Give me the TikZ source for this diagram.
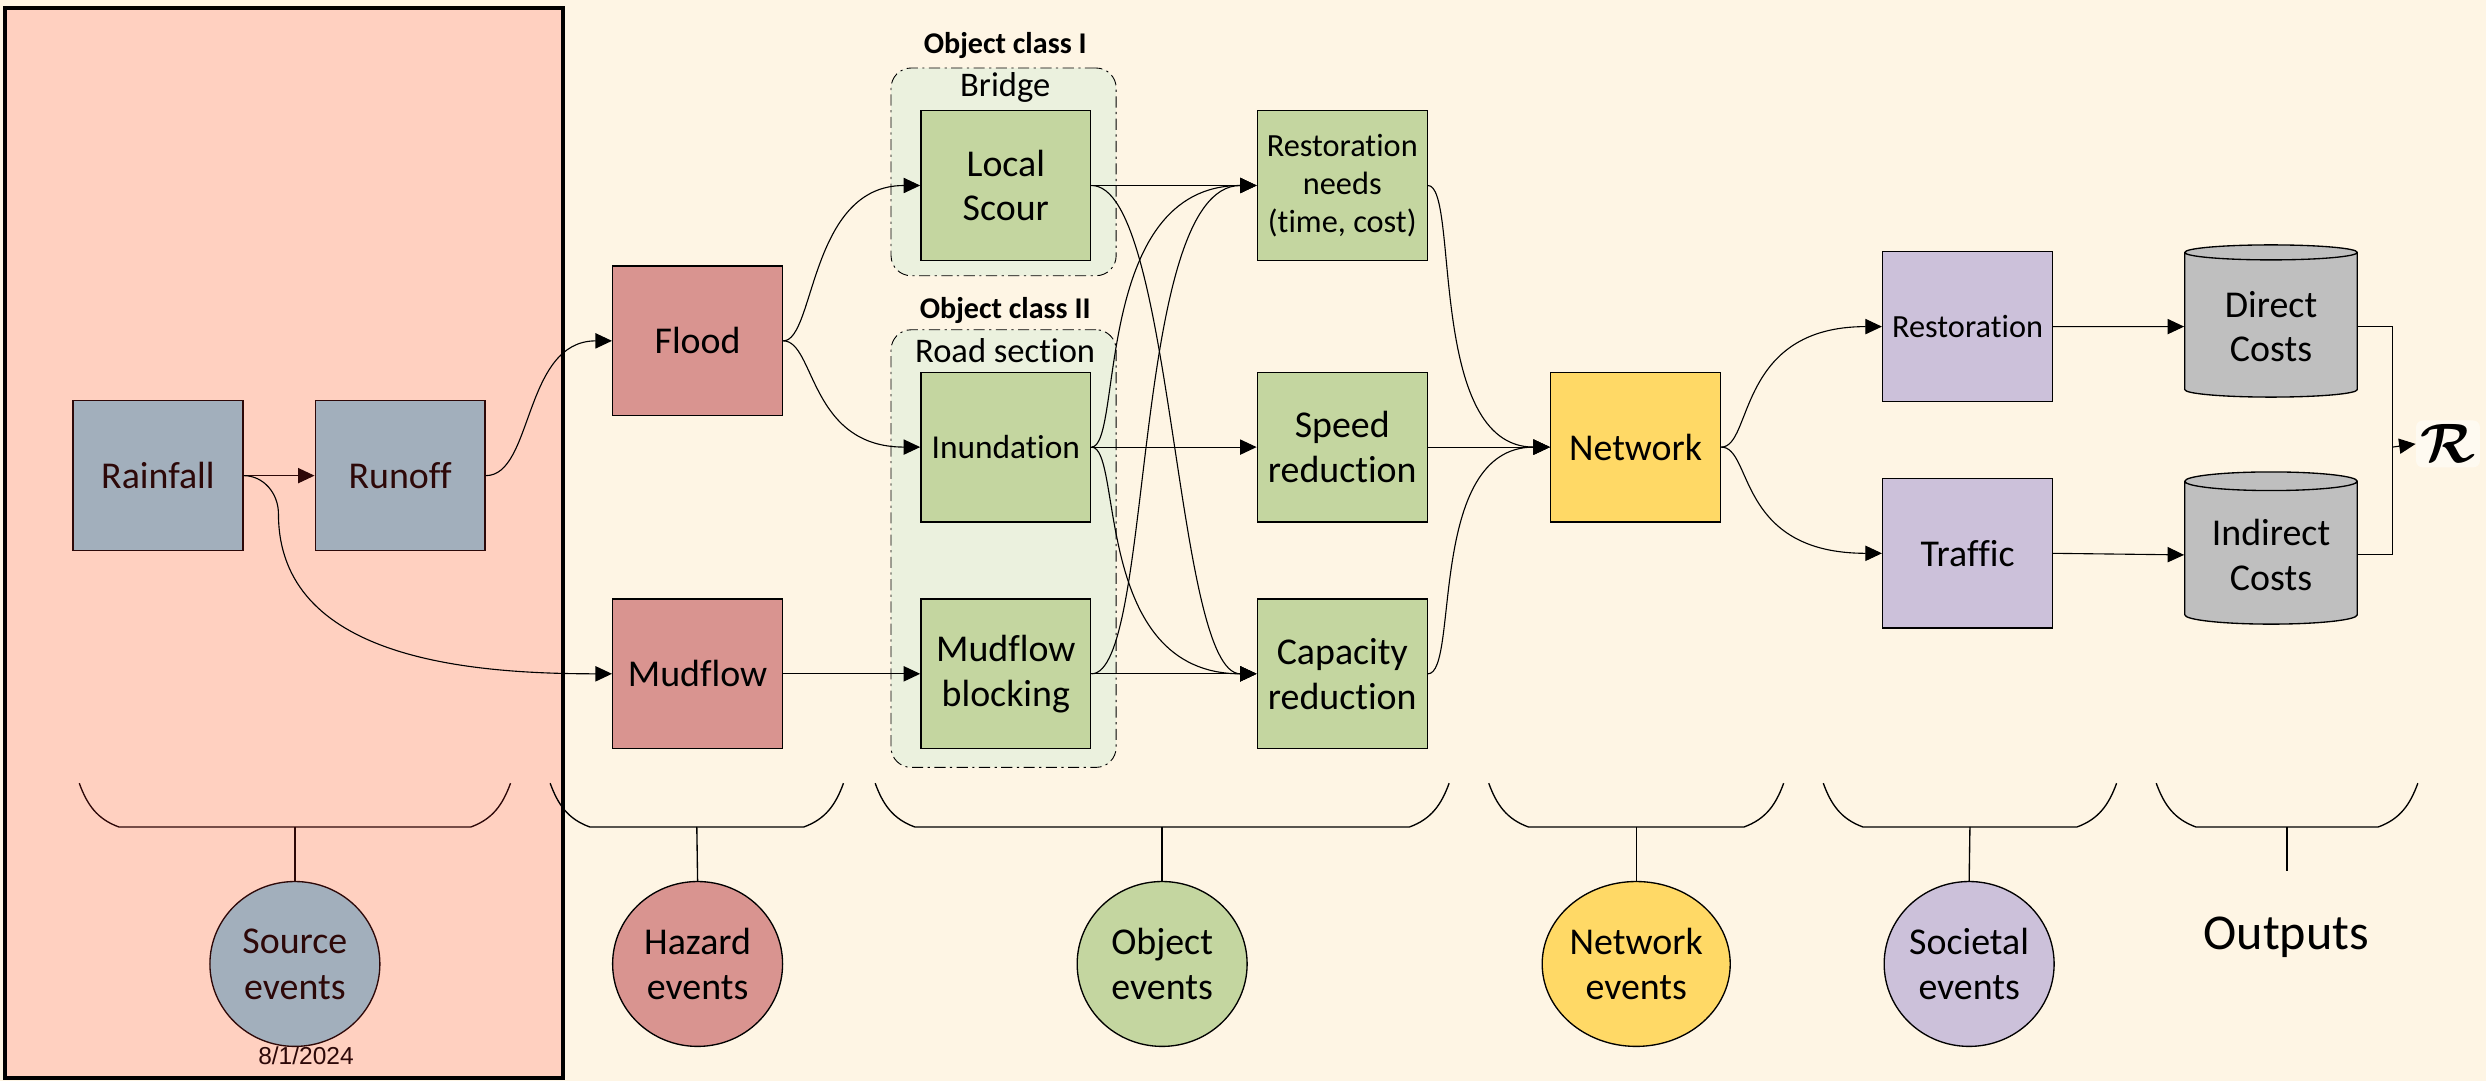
\documentclass[tikz,border=0pt]{standalone}
\usepackage{fontspec}
\setmainfont{Carlito}[Ligatures=NoCommon]
\newfontfamily\datefont{Liberation Sans}
\usepackage{amsmath,amssymb}
\usepackage{xcolor}
\usetikzlibrary{
  shapes.geometric, arrows.meta, positioning, calc
}
\definecolor{creambg}{RGB}{254,245,228}
\definecolor{sourcepink}{RGB}{255,208,192}
\definecolor{sourcegray}{RGB}{162,175,188}
\definecolor{srcink}{RGB}{45,8,8}
\definecolor{hazardred}{RGB}{217,148,144}
\definecolor{objgreen}{RGB}{196,214,160}
\definecolor{classgreen}{RGB}{235,241,222}
\definecolor{netyellow}{RGB}{255,217,102}
\definecolor{socpurple}{RGB}{204,193,218}
\definecolor{costgray}{RGB}{191,191,191}

\begin{document}
\begin{tikzpicture}[
  box/.style={rectangle, draw, line width=0.6pt,
    minimum width=2.68cm, minimum height=2.36cm,
    align=center, inner sep=1pt,
    font=\fontsize{17}{20}\selectfont},
  srcbox/.style={box, fill=sourcegray, draw=srcink, text=srcink},
  hazbox/.style={box, fill=hazardred},
  objbox/.style={box, fill=objgreen},
  netbox/.style={box, fill=netyellow},
  socbox/.style={box, fill=socpurple},
  costcyl/.style={cylinder, shape border rotate=90, aspect=0.14,
    draw, line width=0.6pt, fill=costgray,
    minimum width=2.72cm, minimum height=2.4cm,
    align=center, font=\fontsize{17}{20}\selectfont},
  group/.style={rectangle, rounded corners=9pt, draw,
    dash pattern=on 5pt off 2pt on 1pt off 2pt,
    fill=classgreen, minimum width=3.55cm},
  grplbl/.style={font=\fontsize{15.5}{18}\selectfont, inner sep=0pt},
  classlbl/.style={font=\fontsize{13.5}{16}\selectfont\bfseries,
    inner sep=0pt},
  evt/.style={ellipse, draw, line width=0.6pt,
    minimum width=2.68cm, minimum height=2.6cm,
    align=center, inner sep=0pt,
    font=\fontsize{17}{20.6}\selectfont},
  link/.style={-{Triangle[length=0.26cm, width=0.24cm]},
    line width=0.5pt},
  brace/.style={line width=0.6pt}
]
% Background and source frame
\fill[creambg] (0,0) rectangle (39.2,17.05);
\useasboundingbox (0,0) rectangle (39.2,17.05);
\draw[line width=1.8pt, fill=sourcepink]
  (0.075,0.05) rectangle (8.875,16.925);

% Object classes
\node[group, minimum height=3.275cm] (ClassI) at (15.825,14.34) {};
\node[group, minimum height=6.9cm] (ClassII) at (15.825,8.4) {};
\node[classlbl] (ClassILbl) at (15.85,16.325) {Object class I};
\node[classlbl] (ClassIILbl) at (15.85,12.15) {Object class II};
\node[grplbl] (BridgeLbl) at (15.85,15.675) {Bridge};
\node[grplbl] (RoadLbl) at (15.85,11.525) {Road section};

% Source events
\node[srcbox] (Rainfall) at (2.49,9.55) {Rainfall};
\node[srcbox] (Runoff) at (6.31,9.55) {Runoff};

% Hazard events
\node[hazbox] (Flood) at (11.0,11.675) {Flood};
\node[hazbox] (Mudflow) at (11.0,6.425) {Mudflow};

% Object events
\node[objbox] (Scour) at (15.86,14.125) {Local\\Scour};
\node[objbox, font=\fontsize{15}{18}\selectfont]
  (Inundation) at (15.86,10.0) {Inundation};
\node[objbox] (Blocking) at (15.86,6.425) {Mudflow\\blocking};
\node[objbox, font=\fontsize{14.5}{17}\selectfont]
  (RestNeeds) at (21.165,14.125) {Restoration\\needs\\(time, cost)};
\node[objbox] (Speed) at (21.165,10.0) {Speed\\reduction};
\node[objbox] (Capacity) at (21.165,6.425) {Capacity\\reduction};

% Network events
\node[netbox] (Network) at (25.79,10.0) {Network};

% Societal events
\node[socbox, font=\fontsize{14.5}{17}\selectfont]
  (Restoration) at (31.025,11.9) {Restoration};
\node[socbox] (Traffic) at (31.025,8.325) {Traffic};

% Outputs
\node[costcyl] (Direct) at (35.81,11.9) {Direct\\Costs};
\node[costcyl] (Indirect) at (35.81,8.3) {Indirect\\Costs};
\node[fill=white, fill opacity=0.5, text opacity=1,
      rounded corners=3pt, inner sep=2pt,
      font=\fontsize{25}{25}\selectfont]
  (R) at (38.6,10.05) {$\boldsymbol{\mathcal{R}}$};
\coordinate (join) at (37.725,10.0);

% Arrows
\draw[link, srcink] (Rainfall.east) -- (Runoff.west);
\draw[link] (Runoff.east) .. controls +(0.75,0) and +(-1.4,0)
  .. (Flood.west);
\draw[link] (Rainfall.east) to[out=0,in=90] ++(0.55,-0.6)
  to[out=-90,in=180] (Mudflow.west);
\draw[link] (Flood.east) .. controls +(0.5,0) and +(-1.75,0)
  .. (Scour.west);
\draw[link] (Flood.east) .. controls +(0.5,0) and +(-1.75,0)
  .. (Inundation.west);
\draw[link] (Mudflow.east) -- (Blocking.west);

\draw[link] (Scour.east) -- (RestNeeds.west);
\draw[link] (Scour.east) .. controls +(1.3,0) and +(-1.3,0)
  .. (Capacity.west);
\draw[link] (Inundation.east) .. controls +(0.5,0) and +(-2.6,0)
  .. (RestNeeds.west);
\draw[link] (Inundation.east) -- (Speed.west);
\draw[link] (Inundation.east) .. controls +(0.5,0) and +(-2.6,0)
  .. (Capacity.west);
\draw[link] (Blocking.east) .. controls +(1.0,0) and +(-2.0,0)
  .. (RestNeeds.west);
\draw[link] (Blocking.east) -- (Capacity.west);

\draw[link] (RestNeeds.east) .. controls +(0.5,0) and +(-1.95,0)
  .. (Network.west);
\draw[link] (Speed.east) -- (Network.west);
\draw[link] (Capacity.east) .. controls +(0.5,0) and +(-1.95,0)
  .. (Network.west);

\draw[link] (Network.east) .. controls +(0.5,0) and +(-2.3,0)
  .. (Restoration.west);
\draw[link] (Network.east) .. controls +(0.5,0) and +(-2.3,0)
  .. (Traffic.west);
\draw[link] (Restoration.east) -- (Direct.west);
\draw[link] (Traffic.east) -- (Indirect.west);

\draw[line width=0.5pt] (Direct.east) -| (join);
\draw[line width=0.5pt] (Indirect.east) -| (join);
\draw[link] (join) -- (R.west);

% Brackets
\foreach \xa/\xb/\nm/\col in {1.25/8.05/srcB/srcink,
    8.675/13.3/hazB/black, 13.8/22.85/objB/black,
    23.475/28.125/netB/black, 28.75/33.375/socB/black,
    34.0/38.125/outB/black}{
  \draw[brace, \col] (\xa,4.7) to[out=-70,in=160] (\xa+0.625,4.01)
    -- (\xb-0.625,4.01) to[out=20,in=-110] (\xb,4.7);
  \coordinate (\nm) at ({(\xa+\xb)/2},4.01);
}

% Event classes
\node[evt, fill=sourcegray, draw=srcink, text=srcink]
  (SrcEvt) at (4.65,1.85) {Source\\events};
\node[evt, fill=hazardred] (HazEvt) at (11.0,1.85) {Hazard\\events};
\node[evt, fill=objgreen] (ObjEvt) at (18.325,1.85) {Object\\events};
\node[evt, fill=netyellow] (NetEvt) at (25.8,1.85) {Network\\events};
\node[evt, fill=socpurple] (SocEvt) at (31.05,1.85) {Societal\\events};
\node[font=\fontsize{22.5}{26}\selectfont]
  (OutLbl) at (36.05,2.275) {Outputs};
\node[font=\datefont\fontsize{11}{13}\selectfont, text=srcink]
  (Date) at (4.825,0.4) {8/1/2024};

\draw[brace, srcink] (srcB) -- (SrcEvt.north);
\draw[brace] (hazB) -- (HazEvt.north);
\draw[brace] (objB) -- (ObjEvt.north);
\draw[brace] (netB) -- (NetEvt.north);
\draw[brace] (socB) -- (SocEvt.north);
\draw[brace] (outB) -- ++(0,-0.7);
\end{tikzpicture}
\end{document}
